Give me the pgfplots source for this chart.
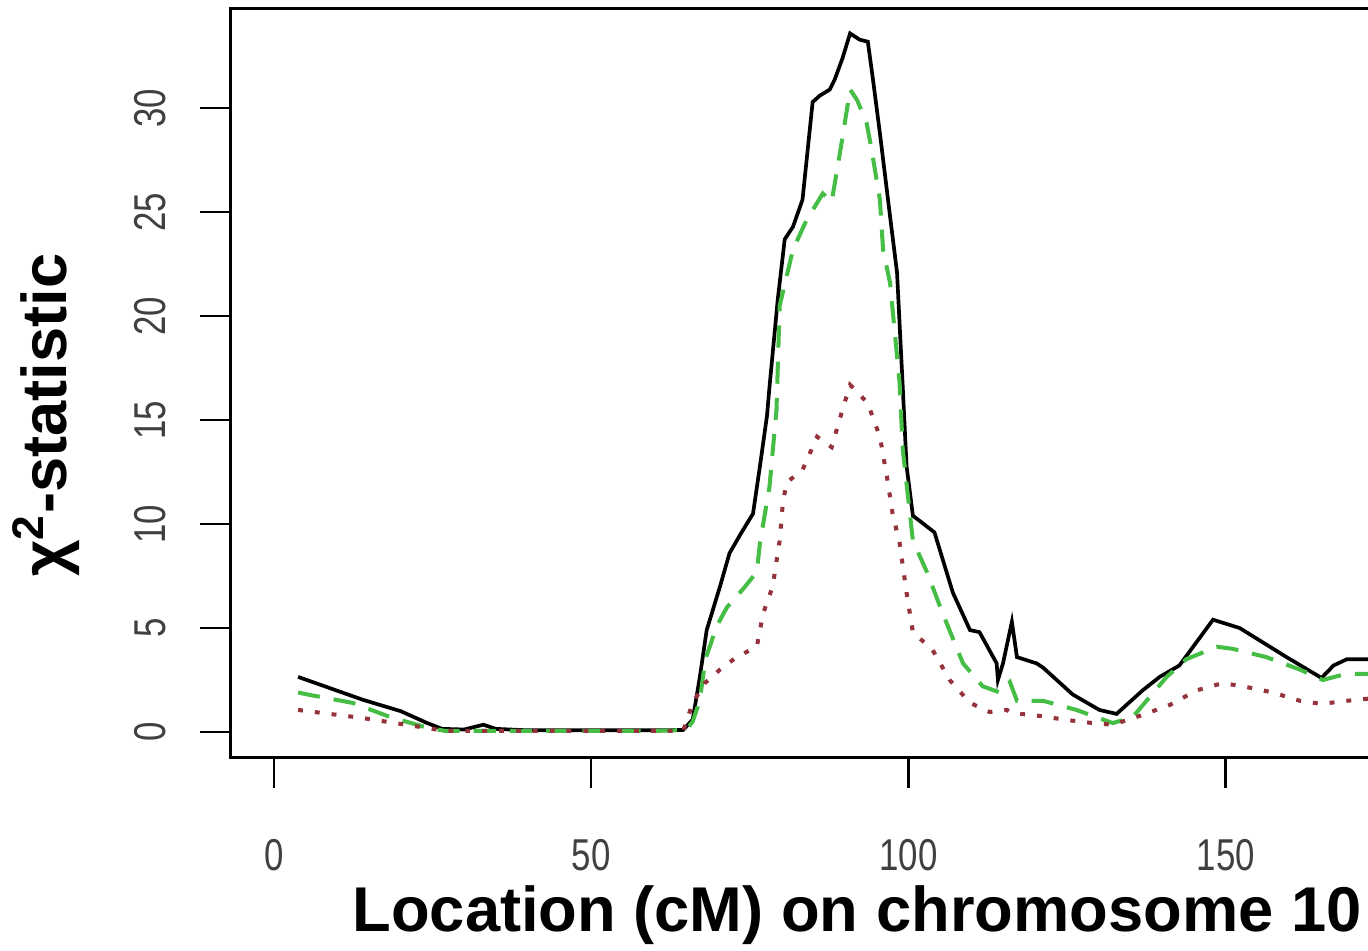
\documentclass[border=0pt]{standalone}
\usepackage{fontspec}
\setmainfont{Liberation Sans}
\newfontfamily\tickfont[FakeStretch=0.78]{Liberation Sans}
\usepackage{pgfplots}
\pgfplotsset{compat=1.18}
\definecolor{qtlgreen}{RGB}{70,190,70}
\definecolor{qtlred}{RGB}{150,50,60}

\begin{document}
\begin{tikzpicture}
\useasboundingbox (0,0) rectangle (13.68,9.51);
\clip (0,0) rectangle (13.68,9.51);
\begin{axis}[
  at={(2.305cm,1.93cm)}, anchor=south west,
  scale only axis, width=12.49cm, height=7.495cm,
  xmin=-6.85, xmax=190, ymin=-1.25, ymax=34.8,
  axis line style={line width=0.85pt},
  xtick={0,50,100,150,200}, ytick={0,5,...,30},
  tick pos=left, tick align=outside, major tick length=0.3cm,
  every tick/.style={black, line width=0.7pt},
  tick label style={font=\tickfont\fontsize{12.7}{14}\selectfont, text=black!75},
  /pgf/number format/assume math mode=true,
  xticklabel style={anchor=center, yshift=-0.67cm},
  yticklabel style={rotate=90, anchor=center, yshift=0.5cm},
]
% black: full model
\addplot[black, line width=1.05pt] coordinates {
  (3.8,2.65) (14,1.55) (20,1.0) (24,0.45) (26.5,0.15) (30,0.12) (33,0.35)
  (35,0.15) (40,0.08) (50,0.08) (60,0.08) (64.5,0.1) (66,0.6) (67.1,2.6)
  (68.2,4.9) (70.3,7.0) (71.8,8.6) (73.5,9.5) (75.5,10.5) (76.6,12.8)
  (77.7,15.2) (78.1,16.6) (79.4,20.8) (80.5,23.7) (81.8,24.3) (83.3,25.6)
  (84.9,30.3) (86,30.6) (87.6,30.9) (88.4,31.4) (89.6,32.4) (90.8,33.6)
  (92.3,33.3) (93.6,33.2) (94.4,31.4) (95.5,28.8) (97.1,24.8) (98.2,22.1)
  (99.1,16.6) (99.7,12.8) (100.7,10.4) (102,10.1) (104.1,9.6) (105.4,8.3)
  (107.0,6.7) (109.7,4.9) (111.2,4.8) (113.9,3.3) (114.1,2.5) (114.9,3.3)
  (116.3,5.3) (117.1,3.6) (120.2,3.3) (121.2,3.1) (125.9,1.8) (130.1,1.06)
  (132.8,0.87) (136.9,2.0) (139.6,2.65) (142.7,3.2) (148,5.4) (152.2,5.0)
  (159.6,3.6) (165.1,2.6) (167,3.2) (169.1,3.5) (172.4,3.5) (176,3.4)
};
% green dashed
\addplot[qtlgreen, line width=1.15pt, dash pattern=on 6.3pt off 4pt] coordinates {
  (3.8,1.9) (5.7,1.78) (12.4,1.4) (18.3,0.72) (24,0.22) (27,0.05) (40,0.05)
  (50,0.05) (60,0.05) (65,0.1) (66,0.5) (67.1,1.5) (68,3.5) (69.8,5.1)
  (71.4,6.0) (74,6.9) (76.1,7.7) (76.6,9.1) (78.1,11.8) (79.2,15.5)
  (79.7,20.5) (81.8,23.2) (83.9,24.6) (86.5,25.9) (87.9,25.5) (89.5,28.4)
  (90.8,30.9) (91.9,30.4) (93.4,29.3) (94.2,28.0) (95.5,25.6) (96.0,23.2)
  (97.1,21.6) (98.6,16.8) (99.1,13.6) (100.7,9.2) (102.9,7.7) (105.4,5.7)
  (108.6,3.3) (111.7,2.2) (114.4,1.9) (116,2.4) (117.1,1.5) (121.2,1.5)
  (126.5,1.06) (129.7,0.7) (132.2,0.43) (135.3,0.7) (140.7,2.65) (143.8,3.5)
  (148.6,4.1) (151.1,4.0) (156.4,3.6) (161.7,3.0) (165.3,2.5) (169,2.8)
  (172.4,2.8) (176,2.8)
};
% red dotted
\addplot[qtlred, line width=1.15pt, dash pattern=on 1.4pt off 3.4pt] coordinates {
  (3.8,1.06) (14,0.67) (21,0.34) (24,0.2) (27,0.05) (40,0.05) (50,0.05)
  (60,0.05) (64.5,0.05) (66,1.4) (67.9,2.35) (70.3,3.0) (72.9,3.6)
  (76.1,4.1) (77.1,5.7) (78.6,7.0) (79.7,9.2) (80.2,11.0) (80.8,12.0)
  (83.3,12.6) (85.6,14.2) (87.9,13.7) (89.6,15.5) (90.8,16.7) (91.8,16.4)
  (93.6,15.8) (95.5,14.2) (96.6,12.3) (97.5,10.5) (98.6,9.1) (99.7,6.7)
  (100.7,4.8) (103.8,3.95) (106.5,2.5) (109.7,1.4) (112.8,0.96) (115.5,1.06)
  (116.4,0.9) (119.6,0.82) (124.9,0.58) (129,0.43) (132.2,0.35) (136.9,0.82)
  (141.2,1.3) (145.4,2.0) (149.5,2.35) (152.7,2.2) (157.4,1.9) (161.7,1.5)
  (165.1,1.35) (169.1,1.5) (172.4,1.6) (176,1.6)
};
\end{axis}
\node[font=\bfseries\fontsize{18}{20}\selectfont, anchor=base, inner sep=0pt]
  at (8.57,0.19) {Location (cM) on chromosome 10};
\node[font=\bfseries\fontsize{18}{20}\selectfont, rotate=90, anchor=base, inner sep=0pt]
  at (0.66,5.36) {χ\textsuperscript{2}-statistic};
\end{tikzpicture}
\end{document}
